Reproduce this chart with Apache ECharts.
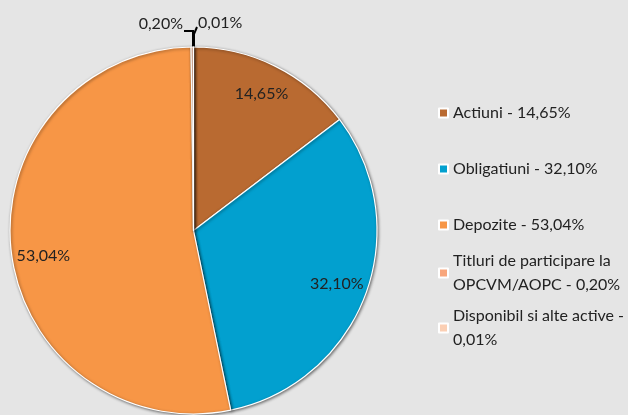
<!DOCTYPE html>
<html>
<head>
<meta charset="utf-8">
<script src="https://cdn.jsdelivr.net/npm/echarts@6/dist/echarts.min.js"></script>
<style>
  html, body { margin: 0; padding: 0; background: #e5e5e5; }
  #chart { width: 628px; height: 415px; }
</style>
</head>
<body>
<div id="chart"></div>
<script>
// structura portofoliului (%)
const categories = ['Actiuni', 'Obligatiuni', 'Depozite', 'Titluri de participare la OPCVM/AOPC', 'Disponibil si alte active'];
const shares = [14.65, 32.10, 53.04, 0.20, 0.01];
const colors = ['#b96a31', '#02a0cf', '#f79646', '#f8a67c', '#fbcfb4'];

const fmt = v => v.toFixed(2).replace('.', ',') + '%';
const shareOf = name => shares[categories.indexOf(name)];

const center = [193.5, 230.5];
const font = 'Lato';
const textColor = '#222222';

const mainData = categories.map((name, i) => ({
  name: name,
  value: shares[i],
  itemStyle: { color: colors[i] },
  label: { show: i >= 3 },
  labelLine: { show: i >= 3 }
}));

// serie transparenta folosita doar pentru etichetele din interior
const labelData = categories.map((name, i) => ({
  name: name,
  value: shares[i],
  label: { show: i < 3, offset: i === 2 ? [2, 9] : [0, 0] }
}));

const legendText = {
  fontFamily: font, fontSize: 16, color: textColor,
  width: 178, overflow: 'break', lineHeight: 24
};

const legendItem = (name, extra) => ({
  name: name,
  textStyle: Object.assign({}, legendText, extra || {})
});

const legendBase = {
  orient: 'vertical',
  left: 438,
  padding: 0,
  itemWidth: 9,
  itemHeight: 9,
  icon: 'rect',
  selectedMode: false,
  inactiveColor: textColor,
  formatter: name => name + ' - ' + fmt(shareOf(name)),
  textStyle: legendText
};

const chart = echarts.init(document.getElementById('chart'));
chart.setOption({
  backgroundColor: '#e5e5e5',
  animation: false,
  legend: [
    Object.assign({}, legendBase, {
      top: 103,
      itemGap: 36,
      data: categories.slice(0, 3).map(n => legendItem(n, { lineHeight: 20 })),
      textStyle: Object.assign({}, legendText, { lineHeight: 20 })
    }),
    Object.assign({}, legendBase, {
      top: 237,
      data: [legendItem(categories[3], { padding: [24, 0, 0, 0] })]
    }),
    Object.assign({}, legendBase, {
      top: 292,
      data: [legendItem(categories[4], { padding: [24, 0, 0, 0] })]
    })
  ],
  series: [
    {
      type: 'pie',
      center: center,
      radius: [0, 183.5],
      startAngle: 90,
      clockwise: true,
      avoidLabelOverlap: false,
      silent: true,
      itemStyle: {
        borderColor: '#ffffff',
        borderWidth: 1.2,
        shadowColor: 'rgba(0,0,0,0.5)',
        shadowBlur: 3,
        shadowOffsetX: 1,
        shadowOffsetY: 1
      },
      label: {
        position: 'outside',
        formatter: p => fmt(p.value),
        fontFamily: font,
        fontSize: 16,
        color: textColor
      },
      labelLine: { lineStyle: { color: '#000', width: 2 } },
      labelLayout: p => {
        if (p.dataIndex === 3) {
          return { x: 183, y: 24, align: 'right', verticalAlign: 'middle',
            labelLinePoints: [[184, 31], [193, 31], [193, 48]] };
        }
        if (p.dataIndex === 4) {
          return { x: 198, y: 23, align: 'left', verticalAlign: 'middle',
            labelLinePoints: [[197, 27], [194, 34], [194, 48]] };
        }
      },
      data: mainData
    },
    {
      type: 'pie',
      center: center,
      radius: [117, 183],
      startAngle: 90,
      clockwise: true,
      silent: true,
      avoidLabelOverlap: false,
      itemStyle: { color: 'rgba(0,0,0,0)', borderWidth: 0 },
      label: {
        position: 'inside',
        formatter: p => fmt(p.value),
        fontFamily: font,
        fontSize: 16,
        color: textColor
      },
      labelLine: { show: false },
      data: labelData
    }
  ]
});
</script>
</body>
</html>
